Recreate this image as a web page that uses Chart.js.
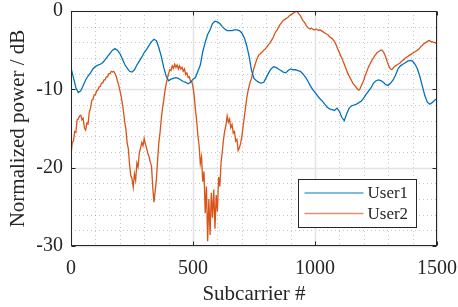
<!DOCTYPE html>
<html>
<head>
<meta charset="utf-8">
<script src="https://cdn.jsdelivr.net/npm/chart.js@4.4.0/dist/chart.umd.min.js"></script>
<style>
  html,body{margin:0;padding:0;background:#fff;}
  #wrap{width:458px;height:307px;}
</style>
</head>
<body>
<div id="wrap"><canvas id="grafico"></canvas></div>
<script>
// ------------------- DATA -------------------
const seriesNames = ['User1', 'User2'];
const xTicks = [0, 500, 1000, 1500];
const yTicks = [-30, -20, -10, 0];

// User1: one sample every 10 subcarriers (0..1500)
const passoUser1 = 10;
const user1 = [
  -7.3, -8.5, -9.8, -10.4, -10.2, -9.5, -8.8, -8.3, -7.9, -7.4,
  -7.1, -6.9, -6.8, -6.6, -6.2, -5.8, -5.4, -5.0, -4.8, -5.0,
  -5.4, -6.1, -6.8, -7.3, -7.7, -7.8, -7.5, -6.9, -6.4, -5.9,
  -5.3, -4.9, -4.4, -3.9, -3.6, -3.8, -4.7, -5.8, -7.2, -8.3,
  -8.9, -8.7, -8.6, -8.5, -8.6, -8.8, -9.0, -9.1, -9.3, -9.1,
  -8.7, -8.5, -7.7, -6.9, -5.2, -4.0, -3.0, -2.4, -1.6, -1.3,
  -1.4, -1.6, -2.0, -2.3, -2.5, -2.5, -2.5, -2.4, -2.4, -2.5,
  -2.8, -3.4, -4.4, -5.8, -7.6, -8.6, -8.9, -9.1, -9.2, -9.1,
  -8.5, -7.9, -7.4, -7.1, -7.2, -7.4, -7.6, -7.8, -7.9, -7.6,
  -7.4, -7.5, -7.5, -7.6, -7.7, -8.0, -8.4, -8.9, -9.5, -10.0,
  -10.4, -10.8, -11.2, -11.5, -11.9, -12.3, -12.5, -12.6, -12.7, -12.4,
  -12.8, -13.6, -14.0, -13.1, -12.4, -12.1, -12.0, -11.9, -11.7, -11.5,
  -11.1, -10.6, -10.2, -9.8, -9.2, -8.9, -8.8, -8.9, -9.1, -9.4,
  -9.5, -9.2, -8.8, -8.2, -7.4, -7.0, -6.8, -6.6, -6.4, -6.3,
  -6.4, -6.8, -7.4, -8.4, -9.6, -10.8, -11.6, -11.9, -11.7, -11.4,
  -11.2
];

// User2: one sample every 5 subcarriers (0..1500), it is much noisier
const passoUser2 = 5;
const user2 = [
  -18.4, -16.8, -16.6, -15.4, -15.5, -13.9, -13.8, -13.4, -13.3, -13.9,
  -13.7, -14.9, -15.2, -14.3, -14.4, -12.9, -12.4, -11.4, -11.3, -10.7,
  -10.7, -10.2, -10.1, -9.7, -9.6, -9.2, -9.2, -8.8, -8.8, -8.4,
  -8.4, -8.0, -8.0, -7.7, -7.8, -7.7, -8.0, -8.3, -8.9, -9.4,
  -10.1, -10.8, -11.7, -12.8, -14.1, -15.1, -16.8, -17.6, -19.6, -21.0,
  -21.4, -22.5, -20.8, -21.6, -19.4, -19.9, -18.1, -17.5, -16.8, -17.2,
  -16.3, -17.0, -17.5, -18.2, -18.6, -19.3, -19.8, -22.5, -24.4, -23.0,
  -21.5, -19.0, -16.8, -15.5, -13.8, -12.4, -11.4, -10.2, -9.3, -8.6,
  -8.0, -7.5, -7.6, -7.0, -7.3, -6.8, -7.2, -6.9, -7.4, -7.0,
  -7.4, -7.2, -7.7, -7.4, -8.1, -7.9, -8.5, -8.4, -9.0, -9.0,
  -9.7, -10.8, -12.6, -14.0, -15.9, -17.2, -19.5, -18.6, -21.8, -20.5,
  -25.8, -22.4, -29.4, -24.0, -28.6, -23.2, -26.4, -22.8, -27.8, -23.5,
  -25.6, -21.2, -22.4, -19.3, -18.0, -16.4, -15.3, -14.6, -13.4, -14.2,
  -13.8, -14.9, -14.5, -15.6, -15.4, -16.6, -16.4, -17.8, -17.5, -16.9,
  -16.1, -14.8, -13.6, -12.4, -11.2, -10.3, -9.6, -9.0, -8.6, -7.9,
  -7.3, -6.8, -6.3, -5.9, -5.6, -5.5, -5.3, -5.2, -5.0, -4.9,
  -4.7, -4.5, -4.3, -4.1, -3.8, -3.6, -3.3, -2.9, -2.6, -2.4,
  -2.1, -1.8, -1.6, -1.4, -1.2, -1.1, -1.0, -0.9, -0.8, -0.6,
  -0.5, -0.4, -0.3, -0.2, -0.1, 0.0, -0.2, -0.4, -0.6, -0.9,
  -1.2, -1.4, -1.6, -1.9, -2.1, -2.2, -2.3, -2.2, -2.3, -2.4,
  -2.4, -2.3, -2.4, -2.5, -2.4, -2.5, -2.6, -2.7, -2.8, -2.9,
  -3.0, -3.1, -3.3, -3.4, -3.5, -3.7, -3.9, -4.2, -4.6, -5.0,
  -5.3, -5.7, -6.0, -6.4, -6.8, -7.2, -7.6, -8.0, -8.3, -8.6,
  -8.9, -9.2, -9.4, -9.6, -9.8, -10.0, -10.1, -9.9, -9.5, -9.2,
  -8.8, -8.3, -7.9, -7.5, -7.1, -6.8, -6.5, -6.2, -6.0, -5.7,
  -5.5, -5.3, -5.2, -5.1, -5.0, -5.0, -5.2, -5.5, -5.9, -6.4,
  -6.8, -7.2, -7.4, -7.5, -7.3, -7.1, -7.0, -6.9, -6.8, -6.7,
  -6.6, -6.4, -6.3, -6.2, -6.0, -5.9, -5.8, -5.7, -5.6, -5.5,
  -5.4, -5.3, -5.2, -5.1, -5.0, -4.9, -4.7, -4.5, -4.4, -4.2,
  -4.1, -4.0, -3.9, -3.8, -3.8, -3.9, -3.9, -4.0, -4.0, -4.1,
  -4.1
];

const cores = ['#0072BD', '#D95319'];
const fonte = '"Liberation Serif", "Times New Roman", serif';
const corTexto = '#262626';

function pontos(vals, passo){
  return vals.map((v,i)=>({x:i*passo, y:v}));
}

// grid + box + legend drawn MATLAB style
const estiloMatlab = {
  id:'estiloMatlab',
  beforeDatasetsDraw(chart){
    const {ctx, chartArea:a, scales:{x,y}} = chart;
    ctx.save();
    ctx.lineWidth = 1;
    // minor dotted grid
    ctx.strokeStyle = 'rgba(0,0,0,0.22)';
    ctx.setLineDash([1,3]);
    for(let v=x.min; v<=x.max; v+=100){
      if(xTicks.includes(v)) continue;
      const px = Math.round(x.getPixelForValue(v))+0.5;
      ctx.beginPath(); ctx.moveTo(px,a.top); ctx.lineTo(px,a.bottom); ctx.stroke();
    }
    for(let v=y.min; v<=y.max; v+=2){
      if(yTicks.includes(v)) continue;
      const py = Math.round(y.getPixelForValue(v))+0.5;
      ctx.beginPath(); ctx.moveTo(a.left,py); ctx.lineTo(a.right,py); ctx.stroke();
    }
    // major grid
    ctx.setLineDash([]);
    ctx.strokeStyle = '#e3e3e3';
    ctx.lineWidth = 1.5;
    xTicks.forEach(v=>{
      const px = Math.round(x.getPixelForValue(v))+0.5;
      ctx.beginPath(); ctx.moveTo(px,a.top); ctx.lineTo(px,a.bottom); ctx.stroke();
    });
    yTicks.forEach(v=>{
      const py = Math.round(y.getPixelForValue(v))+0.5;
      ctx.beginPath(); ctx.moveTo(a.left,py); ctx.lineTo(a.right,py); ctx.stroke();
    });
    ctx.restore();
  },
  afterDatasetsDraw(chart){
    const {ctx, chartArea:a, scales:{x,y}} = chart;
    ctx.save();
    ctx.strokeStyle = corTexto;
    ctx.lineWidth = 1;
    const l = Math.round(a.left)+0.5, r = Math.round(a.right)-0.5;
    const t = Math.round(a.top)+0.5, b = Math.round(a.bottom)-0.5;
    ctx.strokeRect(l, t, r-l, b-t);
    // inward ticks on all four sides
    const tam = 4;
    xTicks.forEach(v=>{
      const px = Math.round(x.getPixelForValue(v))+0.5;
      ctx.beginPath();
      ctx.moveTo(px,b); ctx.lineTo(px,b-tam);
      ctx.moveTo(px,t); ctx.lineTo(px,t+tam);
      ctx.stroke();
    });
    yTicks.forEach(v=>{
      const py = Math.round(y.getPixelForValue(v))+0.5;
      ctx.beginPath();
      ctx.moveTo(l,py); ctx.lineTo(l+tam,py);
      ctx.moveTo(r,py); ctx.lineTo(r-tam,py);
      ctx.stroke();
    });

    // legend box
    const lx = 298.5, ly = 179.5, lw = 118, lh = 48;
    ctx.fillStyle = '#fff';
    ctx.fillRect(lx, ly, lw, lh);
    ctx.strokeRect(lx, ly, lw, lh);
    ctx.font = '17px ' + fonte;
    ctx.textBaseline = 'middle';
    chart.data.datasets.forEach((ds,i)=>{
      const yy = ly + 13.5 + i*20.5;
      ctx.strokeStyle = ds.borderColor;
      ctx.globalAlpha = 0.65;
      ctx.lineWidth = 1.5;
      ctx.beginPath(); ctx.moveTo(lx+6, yy); ctx.lineTo(lx+65, yy); ctx.stroke();
      ctx.globalAlpha = 1;
      ctx.fillStyle = corTexto;
      ctx.fillText(ds.label, lx+69, yy+1);
    });
    ctx.restore();
  }
};

const ctx = document.getElementById('grafico').getContext('2d');
new Chart(ctx,{
  type:'line',
  data:{
    datasets:[[user1, passoUser1], [user2, passoUser2]].map(([vals,passo],i)=>({
      label:seriesNames[i],
      data:pontos(vals, passo),
      borderColor:cores[i],
      backgroundColor:cores[i],
      borderWidth:1.3,
      pointRadius:0,
      tension:0
    }))
  },
  options:{
    responsive:true,
    maintainAspectRatio:false,
    animation:false,
    layout:{padding:{top:11, right:21, left:0, bottom:0}},
    plugins:{legend:{display:false}, tooltip:{enabled:false}},
    scales:{
      x:{
        type:'linear', min:0, max:1500,
        afterFit:s=>{ s.height = 61; s.paddingLeft = 0; s.paddingRight = 0; },
        afterBuildTicks:s=>{ s.ticks = xTicks.map(v=>({value:v})); },
        grid:{display:false, drawTicks:false},
        border:{display:false},
        ticks:{font:{family:fonte, size:20}, color:corTexto, padding:11, maxRotation:0,
               callback:v=>String(v)},
        title:{display:true, text:'Subcarrier #', font:{family:fonte, size:21}, color:corTexto, padding:{top:0,bottom:0}}
      },
      y:{
        min:-30, max:0,
        afterFit:s=>{ s.width = 71; s.paddingTop = 0; s.paddingBottom = 0; },
        afterBuildTicks:s=>{ s.ticks = yTicks.map(v=>({value:v})); },
        grid:{display:false, drawTicks:false},
        border:{display:false},
        ticks:{font:{family:fonte, size:20}, color:corTexto, padding:8, callback:v=>String(v)},
        title:{display:true, text:'Normalized power / dB', font:{family:fonte, size:21}, color:corTexto, padding:{top:6,bottom:0}}
      }
    }
  },
  plugins:[estiloMatlab]
});
</script>
</body>
</html>
